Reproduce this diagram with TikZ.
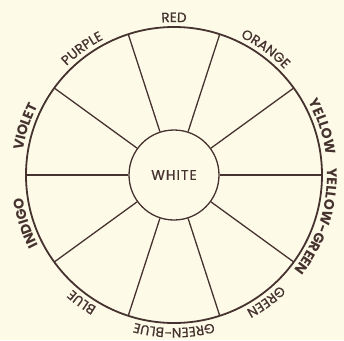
\documentclass[tikz,border=0pt]{standalone}
\usepackage{fontspec}
\setmainfont{Poppins}
\newfontfamily\lbl[LetterSpace=6]{Poppins}
\newfontfamily\lblm[LetterSpace=7,FakeBold=0.8]{Poppins}
\usetikzlibrary{decorations.text}
\definecolor{bg}{RGB}{253,251,232}
\definecolor{ink}{RGB}{70,50,47}
\tikzset{
  outerring/.style={draw=ink, line width=1.8pt},
  spoke/.style={draw=ink, line width=1.3pt},
  hub/.style={circle, draw=ink, line width=1.3pt, minimum size=90pt, inner sep=0pt,
              text=ink, font=\lblm\fontsize{14}{14}\selectfont},
}
\newcommand\ringlabel[3]{%
  \path[decorate, decoration={text along path, text align=center,
        text={|\color{ink}#3|#2}}]
    (#1+70:153pt) arc[start angle=#1+70, end angle=#1-70, radius=153pt];}
\newcommand\rg{\lblm\fontsize{13.5}{13.5}\selectfont}
\newcommand\bd{\lbl\fontsize{14}{14}\selectfont\bfseries}
\begin{document}
\begin{tikzpicture}
\fill[bg] (-174pt,-165pt) rectangle (170pt,175pt);
\useasboundingbox (-174pt,-165pt) rectangle (170pt,175pt);
\node[hub] (w) at (0,0) {WHITE};
\draw[outerring] (0,0) circle[radius=148pt];
\foreach \a in {0,36,...,324} \draw[spoke] (w.\a) -- (\a:148pt);
\ringlabel{90}{RED}{\rg}
\ringlabel{54}{ORANGE}{\rg}
\ringlabel{18}{YELLOW}{\bd}
\ringlabel{-18}{YELLOW-GREEN}{\bd}
\ringlabel{-54}{GREEN}{\rg}
\ringlabel{-90}{GREEN-BLUE}{\rg}
\ringlabel{-126}{BLUE}{\rg}
\ringlabel{198}{INDIGO}{\bd}
\ringlabel{162}{VIOLET}{\bd}
\ringlabel{126}{PURPLE}{\rg}
\end{tikzpicture}
\end{document}
